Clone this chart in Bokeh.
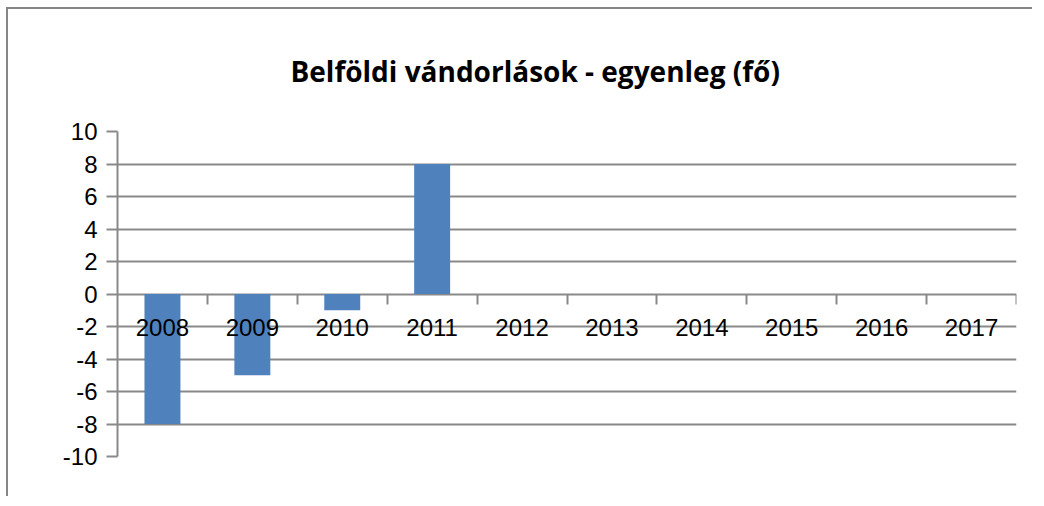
from bokeh.plotting import figure
from bokeh.models import Range1d, LinearAxis, FixedTicker
from bokeh.embed import file_html
from bokeh.resources import INLINE

years = ["2008", "2009", "2010", "2011", "2012", "2013", "2014", "2015", "2016", "2017"]
values = [-8, -5, -1, 8, 0, 0, 0, 0, 0, 0]
y_ticks = [-10, -8, -6, -4, -2, 0, 2, 4, 6, 8, 10]
title_text = "Belföldi vándorlások - egyenleg (fő)"

GRAY = "#898989"
FONT = "Liberation Sans"

n = len(years)
xs = [i + 0.5 for i in range(n)]

p = figure(width=1026, height=489, output_backend="svg", toolbar_location=None,
           x_range=Range1d(0, n), y_range=Range1d(-10, 10),
           min_border_left=109, min_border_right=18, min_border_top=122, min_border_bottom=42,
           x_axis_location=None, y_axis_location=None)
p.styles = {"border-left": "2px solid #868686", "border-top": "2px solid #868686",
            "margin-left": "6px", "margin-top": "7px"}
p.outline_line_color = None
p.background_fill_color = "white"
p.border_fill_color = "white"

# title
p.title.text = title_text
p.title.align = "left"
p.title.offset = 173
p.title.vertical_align = "top"
p.title.standoff = 80
p.title.text_font = "Open Sans"
p.title.text_font_style = "bold"
p.title.text_font_size = "28px"
p.title.text_color = "black"

# grid
p.xgrid.visible = False
p.ygrid.ticker = FixedTicker(ticks=y_ticks)
p.ygrid.grid_line_color = GRAY
p.ygrid.grid_line_width = 2

# bars
p.vbar(x=xs, top=values, bottom=0, width=0.4, fill_color="#4F81BD", line_color=None)

# y axis
yax = LinearAxis(ticker=FixedTicker(ticks=y_ticks))
yax.axis_line_color = GRAY
yax.axis_line_width = 2
yax.major_tick_line_color = GRAY
yax.major_tick_line_width = 2
yax.major_tick_out = 11
yax.major_tick_in = 0
yax.minor_tick_line_color = None
yax.major_label_standoff = 9
yax.major_label_overrides = {t: str(t) for t in y_ticks}
yax.major_label_text_font = FONT
yax.major_label_text_font_size = "24px"
yax.major_label_text_color = "black"
p.add_layout(yax, "left")

# category boundary ticks on the zero line
bax = LinearAxis(ticker=FixedTicker(ticks=[i + 1 for i in range(n)]), fixed_location=0)
bax.axis_line_color = None
bax.major_tick_line_color = GRAY
bax.major_tick_line_width = 2
bax.major_tick_out = 10
bax.major_tick_in = 0
bax.minor_tick_line_color = None
bax.major_label_text_alpha = 0
bax.major_label_text_font_size = "1px"
bax.major_label_overrides = {i + 1: "" for i in range(n)}
p.add_layout(bax, "below")

# category labels
lax = LinearAxis(ticker=FixedTicker(ticks=xs), fixed_location=0)
lax.axis_line_color = None
lax.major_tick_line_color = None
lax.major_tick_out = 0
lax.major_tick_in = 0
lax.minor_tick_line_color = None
lax.major_label_standoff = 25
lax.major_label_overrides = {x: y for x, y in zip(xs, years)}
lax.major_label_text_font = FONT
lax.major_label_text_font_size = "24px"
lax.major_label_text_color = "black"
p.add_layout(lax, "below")

open("out.html", "w").write(file_html(p, INLINE))
